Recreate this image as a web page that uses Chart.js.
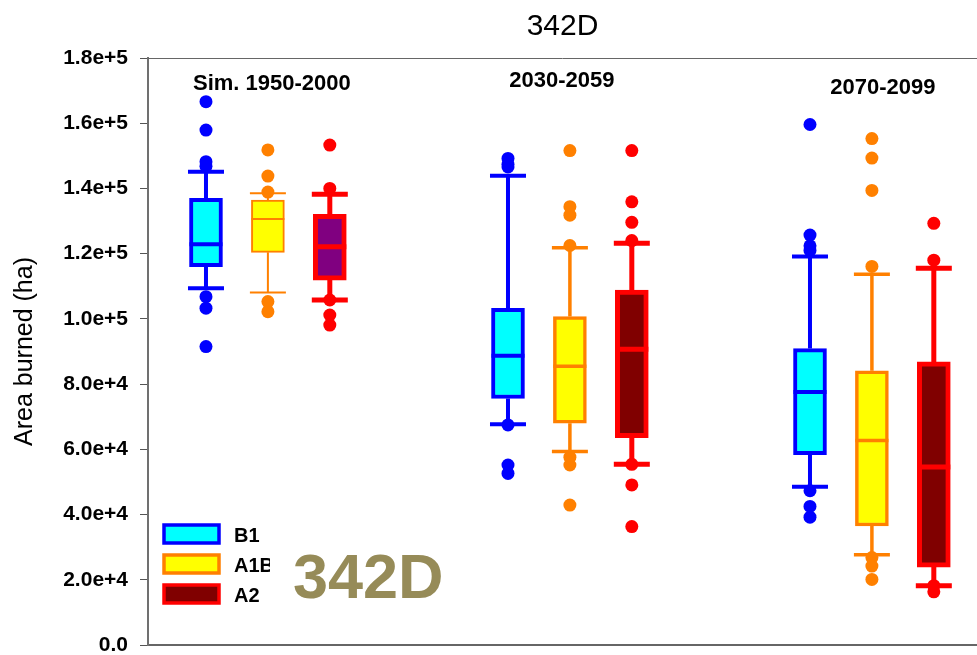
<!DOCTYPE html>
<html lang="en">
<head>
<meta charset="UTF-8">
<title>342D</title>
<style>
  html, body { margin: 0; padding: 0; background: #fff; }
</style>
</head>
<body>
<canvas id="chart" width="977" height="655"></canvas>
<script src="https://cdn.jsdelivr.net/npm/chart.js"></script>
<script>
// periods on the x axis, scenarios as series
const periods = ['Sim. 1950-2000', '2030-2059', '2070-2099'];
const seriesNames = ['B1', 'A1B', 'A2'];
const yTicks = [0, 20000, 40000, 60000, 80000, 100000, 120000, 140000, 160000, 180000];

// per period: [lower whisker, Q1, median, Q3, upper whisker]
const b1Box = [
  [109400, 116000, 122900, 137000, 145100],
  [67700, 75600, 88700, 103200, 143900],
  [48500, 58400, 77600, 90900, 119100]
];
const a1bBox = [
  [108100, 120400, 130600, 136400, 138500],
  [59300, 68000, 85500, 100700, 121800],
  [27700, 36500, 62700, 84100, 113700]
];
const a2Box = [
  [105800, 111900, 122100, 132100, 138200],
  [55400, 63600, 90700, 108800, 123200],
  [18200, 23900, 54600, 86800, 115500]
];

// outlying points per period
const b1Out = [
  [166600, 157900, 148200, 146800, 106800, 103300, 91500],
  [149200, 147400, 146600, 67500, 55200, 52600],
  [159600, 125700, 122400, 121000, 47300, 42500, 39200]
];
const a1bOut = [
  [151800, 143800, 138900, 105300, 102200],
  [151600, 134400, 131800, 122500, 57600, 55200, 42900],
  [155300, 149300, 139400, 116100, 26800, 24200, 20100]
];
const a2Out = [
  [153300, 140000, 105800, 101200, 98100],
  [151600, 135900, 129600, 124000, 55400, 49100, 36300],
  [129300, 118000, 18200, 16300]
];

const boxes = [b1Box, a1bBox, a2Box];
const outs = [b1Out, a1bOut, a2Out];

// look of each series
const FONT = '"Liberation Sans", Arial, sans-serif';
const styles = [
  { offset: -0.205, line: '#0000ff', fill: ['#00ffff', '#00ffff', '#00ffff'], width: [4, 4, 4] },
  { offset: 0, line: '#ff8000', fill: ['#ffff00', '#ffff00', '#ffff00'], width: [2, 3.5, 3.5] },
  { offset: 0.205, line: '#ff0000', fill: ['#800080', '#800000', '#800000'], width: [5, 5, 5] }
];
const labelShift = [[4, 32], [-8, 29], [11, 36]];

var datasets = [];
styles.forEach(function (s, k) {
  datasets.push({
    type: 'bar',
    label: seriesNames[k],
    data: periods.map(function (p, i) { return { x: i + s.offset, y: [boxes[k][i][1], boxes[k][i][3]] }; }),
    backgroundColor: s.fill,
    borderColor: s.line,
    borderWidth: s.width,
    borderSkipped: false,
    barThickness: 33,
    grouped: false,
    order: 1
  });
});
styles.forEach(function (s, k) {
  var pts = [];
  outs[k].forEach(function (arr, i) {
    arr.forEach(function (v) { pts.push({ x: i + s.offset, y: v }); });
  });
  datasets.push({
    type: 'scatter',
    label: seriesNames[k] + ' outliers',
    data: pts,
    pointRadius: 6.5,
    pointHoverRadius: 6.5,
    pointStyle: 'circle',
    backgroundColor: s.line,
    borderWidth: 0,
    order: 0
  });
});

const boxParts = {
  id: 'boxParts',
  beforeDatasetsDraw(chart) {
    const ctx = chart.ctx, x = chart.scales.x, y = chart.scales.y;
    ctx.save();
    styles.forEach(function (s, k) {
      boxes[k].forEach(function (b, i) {
        const px = x.getPixelForValue(i + s.offset);
        ctx.strokeStyle = s.line;
        ctx.lineWidth = s.width[i];
        ctx.beginPath();
        ctx.moveTo(px, y.getPixelForValue(b[0]));
        ctx.lineTo(px, y.getPixelForValue(b[1]));
        ctx.moveTo(px, y.getPixelForValue(b[3]));
        ctx.lineTo(px, y.getPixelForValue(b[4]));
        [b[0], b[4]].forEach(function (v) {
          const py = y.getPixelForValue(v);
          ctx.moveTo(px - 18, py);
          ctx.lineTo(px + 18, py);
        });
        ctx.stroke();
      });
    });
    ctx.restore();
  },
  afterDatasetsDraw(chart) {
    const ctx = chart.ctx, x = chart.scales.x, y = chart.scales.y;
    ctx.save();
    styles.forEach(function (s, k) {
      boxes[k].forEach(function (b, i) {
        const px = x.getPixelForValue(i + s.offset);
        const py = y.getPixelForValue(b[2]);
        ctx.strokeStyle = s.line;
        ctx.lineWidth = s.width[i];
        ctx.beginPath();
        ctx.moveTo(px - 16.5, py);
        ctx.lineTo(px + 16.5, py);
        ctx.stroke();
      });
    });
    ctx.restore();
  },
  afterDraw(chart) {
    const ctx = chart.ctx, x = chart.scales.x, area = chart.chartArea;
    ctx.save();
    // top frame
    ctx.strokeStyle = '#666';
    ctx.lineWidth = 1;
    ctx.beginPath();
    ctx.moveTo(area.left, area.top + 0.5);
    ctx.lineTo(area.right, area.top + 0.5);
    ctx.stroke();

    // period labels
    ctx.fillStyle = '#000';
    ctx.font = 'bold 22px ' + FONT;
    ctx.textAlign = 'center';
    ctx.textBaseline = 'alphabetic';
    periods.forEach(function (p, i) {
      ctx.fillText(p, x.getPixelForValue(i) + labelShift[i][0], area.top + labelShift[i][1]);
    });

    // legend
    const lx = area.left + 16, ly = area.bottom - 120;
    ctx.textAlign = 'left';
    ctx.font = 'bold 20px ' + FONT;
    seriesNames.forEach(function (n, k) {
      const top = ly + k * 30;
      ctx.fillStyle = styles[k].fill[2];
      ctx.strokeStyle = styles[k].line;
      ctx.lineWidth = 3.5;
      ctx.fillRect(lx, top, 55, 18);
      ctx.strokeRect(lx, top, 55, 18);
      ctx.save();
      ctx.beginPath();
      ctx.rect(lx, top - 10, 106, 40);
      ctx.clip();
      ctx.fillStyle = '#000';
      ctx.fillText(n, lx + 70, top + 17);
      ctx.restore();
    });

    // big region tag
    ctx.fillStyle = '#968b58';
    ctx.font = 'bold 63px ' + FONT;
    ctx.fillText('342D', area.left + 145, area.bottom - 47);
    ctx.restore();
  }
};

new Chart(document.getElementById('chart').getContext('2d'), {
  type: 'bar',
  data: { datasets: datasets },
  plugins: [boxParts],
  options: {
    responsive: false,
    animation: false,
    devicePixelRatio: 1,
    layout: { autoPadding: false, padding: { left: 0, right: 0, top: 0, bottom: 10 } },
    plugins: {
      legend: { display: false },
      tooltip: { enabled: false },
      title: {
        display: true,
        fullSize: false,
        text: '342D',
        color: '#000',
        font: { family: FONT, size: 30, weight: 'normal' },
        padding: { top: 9, bottom: 13 }
      }
    },
    scales: {
      x: {
        type: 'linear',
        min: -0.397,
        max: 2.348,
        offset: false,
        afterFit: function (s) { s.paddingLeft = 0; s.paddingRight = 0; },
        ticks: { display: false },
        grid: { display: false, drawTicks: false },
        border: { display: true, color: '#666', width: 2 }
      },
      y: {
        type: 'linear',
        min: 0,
        max: 180000,
        afterBuildTicks: function (s) { s.ticks = yTicks.map(function (v) { return { value: v }; }); },
        afterFit: function (s) { s.width = 148; s.paddingBottom = 10; },
        ticks: {
          color: '#000',
          padding: 12,
          font: { family: FONT, size: 21, weight: 'bold' },
          callback: function (v) { return v === 0 ? '0.0' : Number(v).toExponential(1); }
        },
        grid: { drawOnChartArea: false, drawTicks: true, tickLength: 8, color: '#555', lineWidth: 1 },
        border: { display: true, color: '#707070', width: 2 },
        title: {
          display: true,
          text: 'Area burned (ha)',
          color: '#000',
          font: { family: FONT, size: 25, weight: 'normal' },
          padding: { top: 10, bottom: 0 }
        }
      }
    }
  }
});
</script>
</body>
</html>
